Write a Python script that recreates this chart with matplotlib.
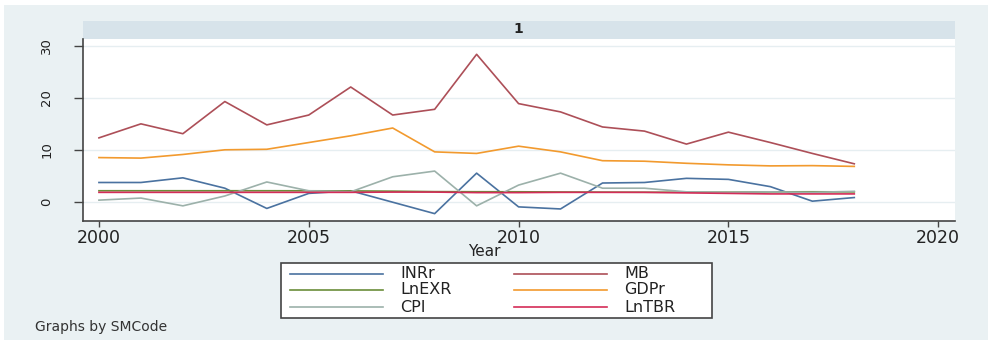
import matplotlib
matplotlib.use("Agg")
import matplotlib.pyplot as plt
from matplotlib.patches import Rectangle
from matplotlib.lines import Line2D

# Annual series for SMCode 1
years = list(range(2000, 2019))
inrr = [3.7, 3.7, 4.6, 2.6, -1.3, 1.6, 2.1, -0.1, -2.3, 5.5,
        -1.0, -1.4, 3.6, 3.7, 4.5, 4.3, 2.9, 0.1, 0.8]
mb = [12.3, 15.0, 13.1, 19.3, 14.8, 16.7, 22.1, 16.7, 17.8, 28.4,
      18.9, 17.3, 14.4, 13.6, 11.1, 13.4, 11.4, 9.3, 7.3]
lnexr = [2.11, 2.11, 2.11, 2.11, 2.11, 2.10, 2.08, 2.03, 1.94, 1.92,
         1.91, 1.87, 1.84, 1.82, 1.82, 1.83, 1.89, 1.91, 1.89]
gdpr = [8.5, 8.4, 9.1, 10.0, 10.1, 11.4, 12.7, 14.2, 9.6, 9.3,
        10.7, 9.6, 7.9, 7.8, 7.4, 7.1, 6.9, 6.95, 6.8]
cpi = [0.3, 0.7, -0.8, 1.1, 3.8, 2.1, 1.9, 4.8, 5.9, -0.8,
       3.2, 5.5, 2.6, 2.6, 1.9, 1.8, 1.9, 1.8, 2.0]
lntbr = [1.8, 1.8, 1.8, 1.8, 1.8, 1.8, 1.8, 1.85, 1.85, 1.75,
         1.75, 1.8, 1.8, 1.8, 1.7, 1.6, 1.5, 1.5, 1.5]

series = [
    ("INRr", inrr, "#4a72a0"),
    ("MB", mb, "#ad4f58"),
    ("LnEXR", lnexr, "#6b8e3a"),
    ("GDPr", gdpr, "#f29a2e"),
    ("CPI", cpi, "#9cb1aa"),
    ("LnTBR", lntbr, "#d42c58"),
]

xticks = [2000, 2005, 2010, 2015, 2020]
yticks = [0, 10, 20, 30]

W, H = 991, 343
fig = plt.figure(figsize=(W / 100, H / 100), dpi=100)
fig.patch.set_facecolor("white")

def fx(px):
    return px / W

def fy(py):
    return 1 - py / H

# Graph region background
fig.patches.append(Rectangle((fx(4), fy(340)), fx(984), 335 / H,
                             transform=fig.transFigure, facecolor="#eaf1f3",
                             edgecolor="none", zorder=-10))

# Plot region
left, right, top, bottom = 83, 955, 39, 221
ax = fig.add_axes([fx(left), fy(bottom), fx(right - left), (bottom - top) / H])
ax.set_facecolor("white")

# Panel strip with the group label
fig.patches.append(Rectangle((fx(left), fy(top)), fx(right - left), 18 / H,
                             transform=fig.transFigure, facecolor="#d7e3ea",
                             edgecolor="none", zorder=-5))
fig.text(fx(518), fy(29), "1", ha="center", va="center", fontsize=10,
         fontweight="bold", color="#222222")

lines = {}
for name, vals, col in series:
    lines[name], = ax.plot(years, vals, color=col, lw=1.2, label=name, zorder=3)

ax.set_xlim(1999.62, 2020.40)
ax.set_ylim(-3.72, 31.35)
ax.set_xticks(xticks)
ax.set_yticks(yticks)
ax.set_xticklabels([str(t) for t in xticks], fontsize=12.5, color="#222222")
ax.set_yticklabels([str(t) for t in yticks], fontsize=9.5, color="#222222",
                   rotation=90, va="center")
ax.tick_params(axis="x", length=4.5, width=1, color="#444444", pad=1)
ax.tick_params(axis="y", length=6.5, width=1, color="#444444", pad=15)
ax.grid(axis="y", color="#e6eef1", lw=1, zorder=0)
ax.set_axisbelow(True)
for s in ["top", "right"]:
    ax.spines[s].set_visible(False)
for s in ["left", "bottom"]:
    ax.spines[s].set_color("#444444")
    ax.spines[s].set_linewidth(1.2)

fig.text(fx(484), fy(252), "Year", ha="center", va="center", fontsize=11,
         color="#222222")

# Legend box, entries laid out row-wise: INRr MB / LnEXR GDPr / CPI LnTBR
fig.patches.append(Rectangle((fx(281), fy(318)), fx(431), 55 / H,
                             transform=fig.transFigure, facecolor="white",
                             edgecolor="#444444", lw=1.2, zorder=5))
rows_y = [274, 290, 307]
cols_x = [290, 514]
layout = [["INRr", "MB"], ["LnEXR", "GDPr"], ["CPI", "LnTBR"]]
for r, row in enumerate(layout):
    for c, name in enumerate(row):
        x0 = cols_x[c]
        y0 = fy(rows_y[r])
        fig.lines.append(Line2D([fx(x0), fx(x0 + 93)], [y0, y0],
                                transform=fig.transFigure,
                                color=lines[name].get_color(), lw=1.2, zorder=6))
        fig.text(fx(x0 + 110), y0, name, ha="left", va="center",
                 fontsize=11.5, color="#222222", zorder=7)

fig.text(fx(35), fy(327), "Graphs by SMCode", ha="left", va="center",
         fontsize=10, color="#333333")

fig.savefig("out.png", dpi=100)
